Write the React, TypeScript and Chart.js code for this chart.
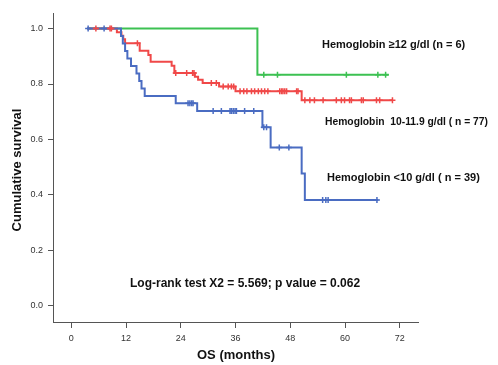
import React, { useEffect, useRef } from "react";
import { Chart, registerables } from "chart.js";
Chart.register(...registerables);

const FONT = "'Liberation Sans', Arial, Helvetica, sans-serif";

const xTicks = [0, 12, 24, 36, 48, 60, 72];
const yTicks = [0, 0.2, 0.4, 0.6, 0.8, 1.0];

// Hemoglobin <10 g/dl (blue)
const lowStart = 3.5;
const lowEnd = 67.3;
const lowEventTimes = [10.9, 11.3, 11.8, 12.3, 13.1, 14.3, 14.9, 15.4, 16.1, 22.9, 27.6, 41.9, 43.7, 50.5, 51.2];
const lowSurvival = [0.973, 0.946, 0.919, 0.892, 0.865, 0.838, 0.811, 0.784, 0.757, 0.731, 0.703, 0.644, 0.571, 0.477, 0.382];
const lowCensored = [3.7, 7.2, 25.6, 26.0, 26.4, 26.7, 31.1, 32.9, 34.8, 35.1, 35.5, 35.9, 36.2, 38.0, 40.0, 42.2, 42.8, 45.6, 47.7, 55.1, 55.8, 56.3, 67.0];

// Hemoglobin 10-11.9 g/dl (red)
const midStart = 3.5;
const midEnd = 70.5;
const midEventTimes = [10.0, 11.0, 11.4, 11.8, 15.0, 16.9, 17.4, 22.0, 22.6, 27.1, 27.8, 28.8, 32.4, 36.0, 50.5];
const midSurvival = [0.987, 0.974, 0.961, 0.947, 0.920, 0.905, 0.880, 0.866, 0.840, 0.826, 0.815, 0.804, 0.791, 0.774, 0.741];
const midCensored = [5.4, 8.5, 8.8, 14.5, 22.9, 25.3, 26.6, 26.9, 30.7, 31.8, 33.3, 34.4, 35.1, 35.6, 37.0, 37.8, 38.5, 39.5, 40.2, 41.0, 41.7, 42.4, 43.1, 45.7, 46.1, 46.4, 46.8, 47.2, 49.4, 49.7, 51.2, 52.3, 53.3, 55.2, 58.1, 59.2, 59.9, 61.0, 61.4, 63.6, 64.0, 66.9, 67.6, 70.4];

// Hemoglobin >=12 g/dl (green)
const highStart = 3.5;
const highEnd = 69.6;
const highEventTimes = [40.8];
const highSurvival = [0.833];
const highCensored = [42.2, 45.2, 60.3, 67.2, 68.9];

const BLUE = "#4a6cc2";
const RED = "#f04848";
const GREEN = "#3cc152";

const annotations = [
  { text: "Hemoglobin \u226512 g/dl (n = 6)", x: 322, y: 45, size: 11, maxW: 0 },
  { text: "Hemoglobin  10-11.9 g/dl ( n = 77)", x: 325, y: 122, size: 11, maxW: 163 },
  { text: "Hemoglobin <10 g/dl ( n = 39)", x: 327, y: 178, size: 11, maxW: 0 },
  { text: "Log-rank test X2 = 5.569; p value = 0.062", x: 130, y: 284, size: 12, maxW: 0 },
];

function curve(start: number, end: number, times: number[], surv: number[]) {
  const pts = [{ x: start, y: 1 }];
  times.forEach((t, i) => pts.push({ x: t, y: surv[i] }));
  pts.push({ x: end, y: surv[surv.length - 1] });
  return pts;
}

function survAt(t: number, times: number[], surv: number[]) {
  let s = 1;
  times.forEach((et, i) => {
    if (et <= t) s = surv[i];
  });
  return s;
}

function censorPts(cens: number[], times: number[], surv: number[]) {
  return cens.map((t) => ({ x: t, y: survAt(t, times, surv) }));
}

const textPlugin = {
  id: "textPlugin",
  afterDraw(chart: any) {
    const ctx = chart.ctx;
    ctx.save();
    ctx.fillStyle = "#111";
    ctx.textBaseline = "middle";
    ctx.textAlign = "left";
    annotations.forEach((a) => {
      ctx.font = `bold ${a.size}px ${FONT}`;
      if (a.maxW) ctx.fillText(a.text, a.x, a.y, a.maxW);
      else ctx.fillText(a.text, a.x, a.y);
    });
    ctx.font = `bold 13px ${FONT}`;
    ctx.textAlign = "center";
    ctx.fillText("OS (months)", 236, 355);
    ctx.translate(17, 170);
    ctx.rotate(-Math.PI / 2);
    ctx.fillText("Cumulative survival", 0, 0);
    ctx.restore();
  },
};

export default function App() {
  const ref = useRef<HTMLCanvasElement | null>(null);
  useEffect(() => {
    if (!ref.current) return;
    const lineDs = (label: string, data: any[], color: string) => ({
      label,
      data,
      borderColor: color,
      backgroundColor: color,
      borderWidth: 2,
      stepped: true,
      pointRadius: 0,
      fill: false,
    });
    const censDs = (label: string, data: any[], color: string) => ({
      label,
      data,
      borderColor: color,
      backgroundColor: color,
      showLine: false,
      pointStyle: "cross",
      pointRadius: 3,
      pointBorderWidth: 1.5,
      borderWidth: 1.5,
    });
    const chart = new Chart(ref.current, {
      type: "line",
      data: {
        datasets: [
          censDs("high-c", censorPts(highCensored, highEventTimes, highSurvival), GREEN),
          censDs("mid-c", censorPts(midCensored, midEventTimes, midSurvival), RED),
          censDs("low-c", censorPts(lowCensored, lowEventTimes, lowSurvival), BLUE),
          lineDs("low", curve(lowStart, lowEnd, lowEventTimes, lowSurvival), BLUE),
          lineDs("mid", curve(midStart, midEnd, midEventTimes, midSurvival), RED),
          lineDs("high", curve(highStart, highEnd, highEventTimes, highSurvival), GREEN),
        ] as any,
      },
      options: {
        animation: false,
        responsive: false,
        layout: { padding: { top: 13, right: 80, left: 0, bottom: 0 } },
        plugins: { legend: { display: false }, tooltip: { enabled: false } },
        scales: {
          x: {
            type: "linear",
            min: -4,
            max: 76,
            afterBuildTicks: (s: any) => {
              s.ticks = xTicks.map((v) => ({ value: v }));
            },
            afterFit: (s: any) => {
              s.height = 43;
            },
            grid: { display: true, drawOnChartArea: false, drawTicks: true, tickLength: 6, color: "#555" },
            border: { display: true, color: "#555", width: 1 },
            ticks: {
              font: { size: 9, family: FONT },
              color: "#333",
              padding: 5,
              maxRotation: 0,
              callback: (v: any) => String(v),
            },
          },
          y: {
            type: "linear",
            min: -0.058,
            max: 1.056,
            afterBuildTicks: (s: any) => {
              s.ticks = yTicks.map((v) => ({ value: v }));
            },
            afterFit: (s: any) => {
              s.width = 53;
            },
            grid: { display: true, drawOnChartArea: false, drawTicks: true, tickLength: 5, color: "#555" },
            border: { display: true, color: "#555", width: 1 },
            ticks: {
              font: { size: 9, family: FONT },
              color: "#333",
              padding: 5,
              callback: (v: any) => Number(v).toFixed(1),
            },
          },
        },
      },
      plugins: [textPlugin],
    });
    return () => chart.destroy();
  }, []);
  return (
    <div style={{ position: "fixed", left: 0, top: 0, width: 498, height: 365, background: "#fff" }}>
      <canvas ref={ref} width={498} height={365} />
    </div>
  );
}
